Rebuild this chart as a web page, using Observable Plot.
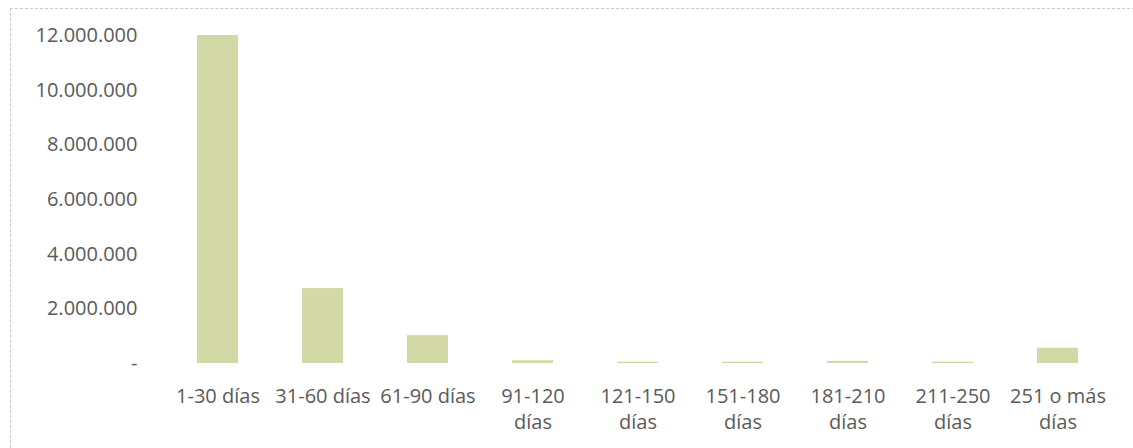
<!DOCTYPE html>
<html>
<head>
<meta charset="utf-8">
<script src="https://cdn.jsdelivr.net/npm/d3@7"></script>
<script src="https://cdn.jsdelivr.net/npm/@observablehq/plot@0.6"></script>
<style>
  html, body { margin: 0; padding: 0; background: #fff; }
  #wrap { position: relative; width: 1133px; height: 448px; overflow: hidden; }
  #border { position: absolute; left: 10px; top: 8px; width: 1125px; height: 450px;
            border: 1px dashed #c8c8c8; box-sizing: border-box; pointer-events: none; }
  svg { font-family: "Open Sans", "Noto Sans", sans-serif; }
</style>
</head>
<body>
<div id="wrap"><div id="border"></div></div>
<script>
const categories = ["1-30 días", "31-60 días", "61-90 días", "91-120 días", "121-150 días",
                    "151-180 días", "181-210 días", "211-250 días", "251 o más días"];
const tickLabels = ["1-30 días", "31-60 días", "61-90 días", "91-120\ndías", "121-150\ndías",
                    "151-180\ndías", "181-210\ndías", "211-250\ndías", "251 o más\ndías"];
const values = [12000000, 2740000, 1020000, 100000, 50000, 50000, 80000, 50000, 560000];
const yTicks = [0, 2000000, 4000000, 6000000, 8000000, 10000000, 12000000];

const data = categories.map((c, i) => ({category: c, value: values[i]}));
const labelOf = new Map(categories.map((c, i) => [c, tickLabels[i]]));
const fmt = v => v === 0 ? "-" : d3.format(",")(v).replace(/,/g, ".");

const chart = Plot.plot({
  width: 1133,
  height: 448,
  marginLeft: 165,
  marginRight: 23,
  marginTop: 35,
  marginBottom: 85,
  style: { fontSize: "20px", color: "#5a5a5a", background: "transparent" },
  x: { domain: categories, paddingInner: 0.61, paddingOuter: 0.305, label: null },
  y: { domain: [0, 12000000], label: null },
  marks: [
    Plot.barY(data, { x: "category", y: "value", fill: "#d3d9a6" }),
    Plot.axisX({ tickSize: 0, tickPadding: 21, lineHeight: 1.3, fontSize: 20,
                 tickFormat: d => labelOf.get(d), label: null }),
    Plot.axisY({ ticks: yTicks, tickFormat: fmt, tickSize: 0, tickPadding: 28, fontSize: 20, label: null })
  ]
});
document.getElementById("wrap").appendChild(chart);
</script>
</body>
</html>
